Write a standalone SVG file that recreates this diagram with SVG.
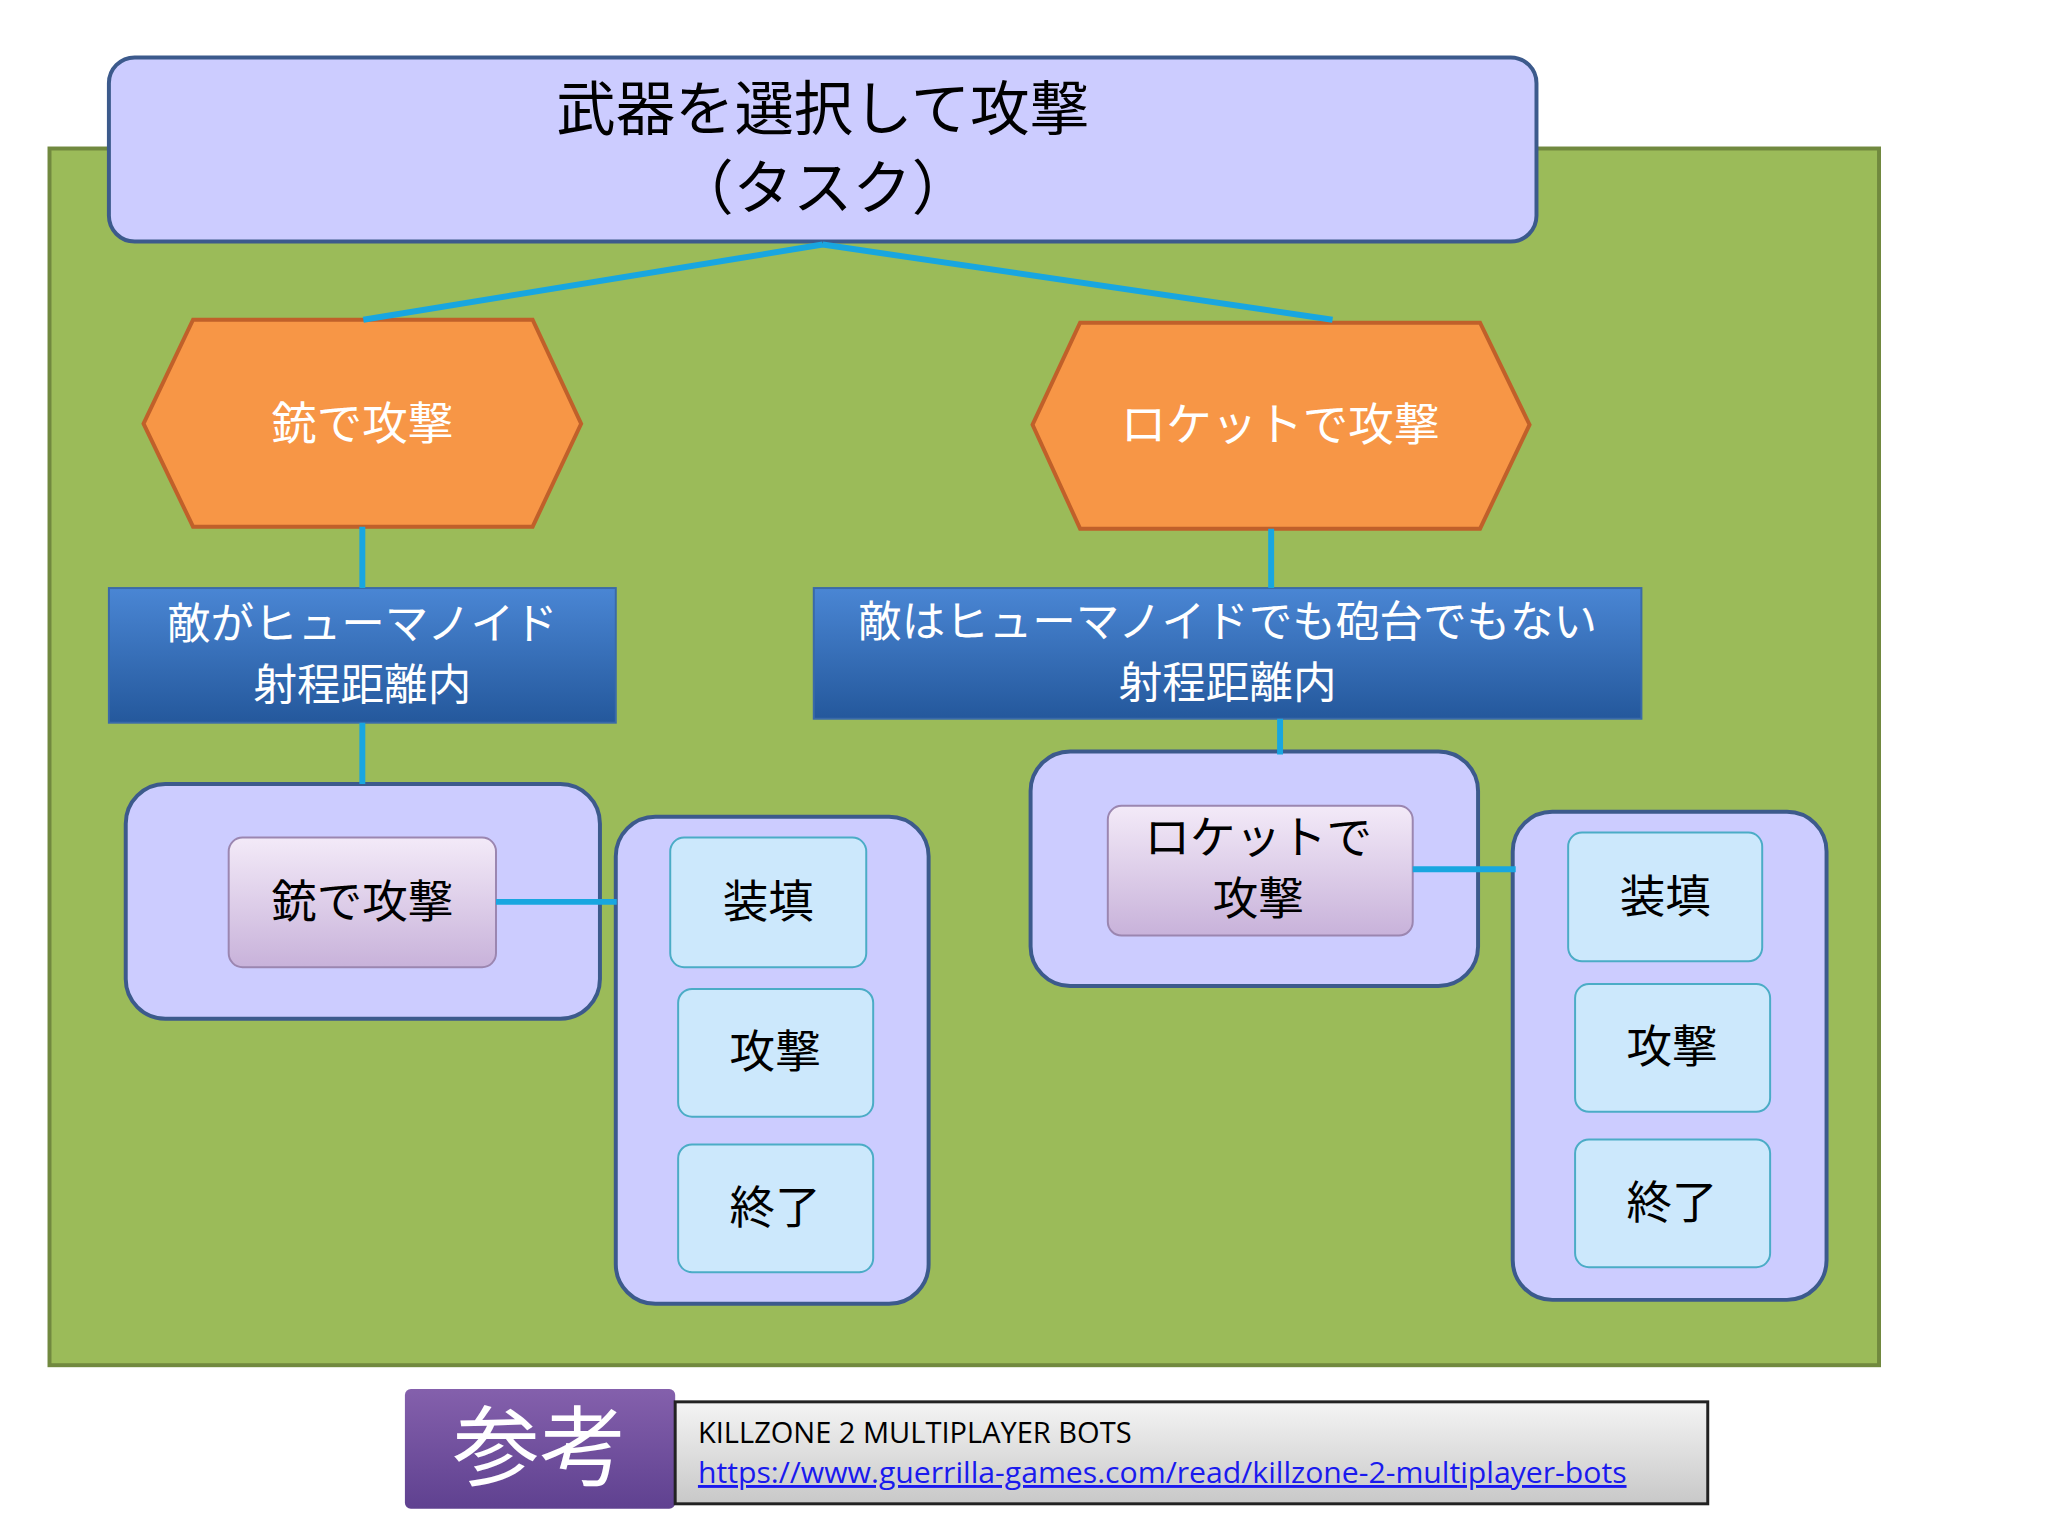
<svg xmlns="http://www.w3.org/2000/svg" width="2048" height="1536" viewBox="0 0 2048 1536">
<defs>
<linearGradient id="gb" x1="0" y1="0" x2="0" y2="1"><stop offset="0" stop-color="#4a86d4"/><stop offset="1" stop-color="#24589c"/></linearGradient>
<linearGradient id="gp" x1="0" y1="0" x2="0" y2="1"><stop offset="0" stop-color="#f3eaf8"/><stop offset="1" stop-color="#c8b2da"/></linearGradient>
<linearGradient id="gg" x1="0" y1="0" x2="0" y2="1"><stop offset="0" stop-color="#f4f4f4"/><stop offset="1" stop-color="#c8c8c8"/></linearGradient>
<linearGradient id="gv" x1="0" y1="0" x2="0" y2="1"><stop offset="0" stop-color="#8460ac"/><stop offset="1" stop-color="#5f4190"/></linearGradient>
</defs>
<style>
.j{font-family:"Noto Sans CJK JP",sans-serif;text-anchor:middle}
.grp{fill:#ccccff;stroke:#3c5a8c;stroke-width:4}
.it{fill:#cce8fc;stroke:#4bacc6;stroke-width:2}
.hx{fill:#f79646;stroke:#c0602a;stroke-width:4}
.c{stroke:#18a6e0;stroke-width:6;fill:none}
</style>
<rect width="2048" height="1536" fill="#fff"/>
<g transform="scale(0.99)">
<rect x="50" y="150" width="1848" height="1229" fill="#9bbb59" stroke="#71893f" stroke-width="4"/>
<g id="title"><rect x="110" y="58" width="1442" height="186" rx="26" fill="#ccccff" stroke="#3c5a8c" stroke-width="4"/>
<text class="j" x="831" y="131" font-size="60">武器を選択して攻撃</text><text class="j" x="831" y="211" font-size="60">（タスク）</text></g>
<g id="hexL"><polygon class="hx" points="145,428 195,323 538,323 587,428 538,532 195,532"/><text class="j" x="366" y="444" font-size="46" fill="#fff">銃で攻撃</text></g>
<g id="hexR"><polygon class="hx" points="1043,429 1091,326 1495,326 1545,429 1495,534 1091,534"/><text class="j" x="1293" y="445" font-size="46" fill="#fff">ロケットで攻撃</text></g>
<g id="condL"><rect x="110" y="594" width="512" height="136" fill="url(#gb)" stroke="#3a6aa8" stroke-width="2"/><text class="j" x="366" y="645" font-size="44" fill="#fff">敵がヒューマノイド</text><text class="j" x="366" y="707" font-size="44" fill="#fff">射程距離内</text></g>
<g id="condR"><rect x="822" y="594" width="836" height="132" fill="url(#gb)" stroke="#3a6aa8" stroke-width="2"/><text class="j" x="1240" y="643" font-size="44" fill="#fff">敵はヒューマノイドでも砲台でもない</text><text class="j" x="1240" y="705" font-size="44" fill="#fff">射程距離内</text></g>
<g id="grpL"><rect class="grp" x="127" y="792" width="479" height="237" rx="40"/><rect x="231" y="846" width="270" height="131" rx="14" fill="url(#gp)" stroke="#9b86b0" stroke-width="2"/><text class="j" x="366" y="927" font-size="46">銃で攻撃</text></g>
<g id="listL"><rect class="grp" x="622" y="825" width="316" height="492" rx="40"/>
<rect class="it" x="677" y="846" width="198" height="131" rx="14"/><text class="j" x="776" y="927" font-size="46">装填</text>
<rect class="it" x="685" y="999" width="197" height="129" rx="14"/><text class="j" x="783" y="1079" font-size="46">攻撃</text>
<rect class="it" x="685" y="1156" width="197" height="129" rx="14"/><text class="j" x="783" y="1236" font-size="46">終了</text></g>
<g id="grpR"><rect class="grp" x="1041" y="759" width="452" height="237" rx="40"/><rect x="1119" y="814" width="308" height="131" rx="14" fill="url(#gp)" stroke="#9b86b0" stroke-width="2"/><text class="j" x="1271" y="863" font-size="46">ロケットで</text><text class="j" x="1271" y="924" font-size="46">攻撃</text></g>
<g id="listR"><rect class="grp" x="1528" y="820" width="317" height="493" rx="40"/>
<rect class="it" x="1584" y="841" width="196" height="130" rx="14"/><text class="j" x="1682" y="922" font-size="46">装填</text>
<rect class="it" x="1591" y="994" width="197" height="129" rx="14"/><text class="j" x="1689" y="1074" font-size="46">攻撃</text>
<rect class="it" x="1591" y="1151" width="197" height="129" rx="14"/><text class="j" x="1689" y="1231" font-size="46">終了</text></g>
<g id="connectors">
<path class="c" d="M831 247 L367 323 M831 247 L1346 323 M366 532 V594 M366 730 V792 M501 911 H623 M1284 534 V594 M1293 726 V762 M1427 878 H1531"/>
</g>
<g id="ref"><rect x="409" y="1403" width="273" height="121" rx="6" fill="url(#gv)"/><text class="j" x="545" y="1494" font-size="88" fill="#fff">参考</text>
<rect x="682" y="1416" width="1043" height="103" fill="url(#gg)" stroke="#222" stroke-width="3"/>
<text x="705" y="1458" font-family="Open Sans,sans-serif" font-size="29" textLength="438" lengthAdjust="spacingAndGlyphs">KILLZONE 2 MULTIPLAYER BOTS</text>
<text x="705" y="1498" font-family="Open Sans,sans-serif" font-size="29" fill="#1a1aee" text-decoration="underline" textLength="938" lengthAdjust="spacingAndGlyphs">https://www.guerrilla-games.com/read/killzone-2-multiplayer-bots</text></g>
</g>
</svg>
